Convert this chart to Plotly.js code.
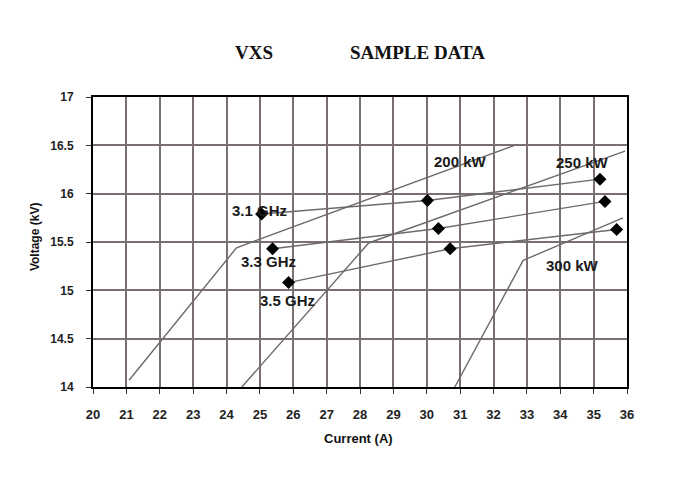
<!DOCTYPE html>
<html>
<head>
<meta charset="utf-8">
<script src="https://cdn.plot.ly/plotly-3.0.1.min.js"></script>
<style>html,body{margin:0;padding:0;background:#fff;}#chart{width:686px;height:497px;}</style>
</head>
<body>
<div id="chart"></div>
<script>
// Power curves (kW)
const p200X = [21.08, 24.30, 32.63];
const p200Y = [14.07, 15.44, 16.50];
const p250X = [24.46, 28.26, 35.94];
const p250Y = [14.00, 15.49, 16.44];
const p300X = [30.84, 32.89, 35.88];
const p300Y = [14.00, 15.31, 15.75];
// Frequency curves (GHz) with measured points
const f31X = [25.05, 30.02, 35.19];
const f31Y = [15.79, 15.93, 16.15];
const f33X = [25.38, 30.35, 35.34];
const f33Y = [15.43, 15.64, 15.92];
const f35X = [25.86, 30.70, 35.69];
const f35Y = [15.08, 15.43, 15.63];
// Tick values
const xTicks = [20,21,22,23,24,25,26,27,28,29,30,31,32,33,34,35,36];
const yTicks = [14,14.5,15,15.5,16,16.5,17];
// Curve labels
const curveLabels = ['3.1 GHz','3.3 GHz','3.5 GHz','200 kW','250 kW','300 kW'];
const labelAnchors = [[25.0,15.83],[25.27,15.30],[25.84,14.90],[31.02,16.33],[34.67,16.32],[34.37,15.26]];

const lineGray = '#6e6a6a';
function curve(x, y){
  return {x:x, y:y, type:'scatter', mode:'lines', line:{color:lineGray, width:1.4}, hoverinfo:'skip', showlegend:false};
}
function freq(x, y){
  return {x:x, y:y, type:'scatter', mode:'lines+markers', line:{color:lineGray, width:1.4},
    marker:{symbol:'diamond', size:10, color:'#000'}, hoverinfo:'skip', showlegend:false};
}
const data = [curve(p200X,p200Y), curve(p250X,p250Y), curve(p300X,p300Y),
              freq(f31X,f31Y), freq(f33X,f33Y), freq(f35X,f35Y)];

const annotations = curveLabels.map((t,i)=>({
  text:t, x:labelAnchors[i][0], y:labelAnchors[i][1], xref:'x', yref:'y', showarrow:false,
  xanchor:'center', yanchor:'middle',
  font:{family:'Liberation Sans, Arial, sans-serif', size:15, color:'#1a1a1a', weight:'bold'}
}));
annotations.push(
  {text:'VXS', xref:'paper', yref:'paper', x:0.3015, y:1.155, xanchor:'center', yanchor:'middle', showarrow:false,
   font:{family:'Liberation Serif, Times New Roman, serif', size:19, color:'#111', weight:'bold'}},
  {text:'SAMPLE DATA', xref:'paper', yref:'paper', x:0.6086, y:1.155, xanchor:'center', yanchor:'middle', showarrow:false,
   font:{family:'Liberation Serif, Times New Roman, serif', size:19, color:'#111', weight:'bold'}},
  {text:'Current (A)', xref:'paper', yref:'paper', x:0.498, y:-0.179, xanchor:'center', yanchor:'middle', showarrow:false,
   font:{family:'Liberation Sans, Arial, sans-serif', size:13, color:'#111', weight:'bold'}},
  {text:'Voltage (kV)', xref:'paper', yref:'paper', x:-0.1086, y:0.517, xanchor:'center', yanchor:'middle', showarrow:false, textangle:-90,
   font:{family:'Liberation Sans, Arial, sans-serif', size:12, color:'#111', weight:'bold'}}
);

const gridColor = '#7a7070';
const tickFontX = {family:'Liberation Sans, Arial, sans-serif', size:13, color:'#222', weight:'bold'};
const tickFontY = {family:'Liberation Sans, Arial, sans-serif', size:12, color:'#222', weight:'bold'};
const layout = {
  width:686, height:497,
  margin:{l:93, r:59, t:97, b:110},
  paper_bgcolor:'#ffffff', plot_bgcolor:'#ffffff',
  showlegend:false,
  xaxis:{range:[20,36], tickvals:xTicks, showgrid:true, gridcolor:gridColor, gridwidth:2,
    showline:true, linecolor:'#000', linewidth:2, mirror:true, zeroline:false,
    ticks:'outside', ticklen:5, tickcolor:'#333', ticklabelstandoff:9, tickfont:tickFontX, fixedrange:true},
  yaxis:{range:[14,17], tickvals:yTicks, showgrid:true, gridcolor:gridColor, gridwidth:2,
    showline:true, linecolor:'#000', linewidth:2, mirror:true, zeroline:false,
    ticks:'outside', ticklen:5, tickcolor:'#333', ticklabelstandoff:10, tickfont:tickFontY, fixedrange:true},
  annotations:annotations
};
Plotly.newPlot('chart', data, layout, {displayModeBar:false, staticPlot:true});
</script>
</body>
</html>
